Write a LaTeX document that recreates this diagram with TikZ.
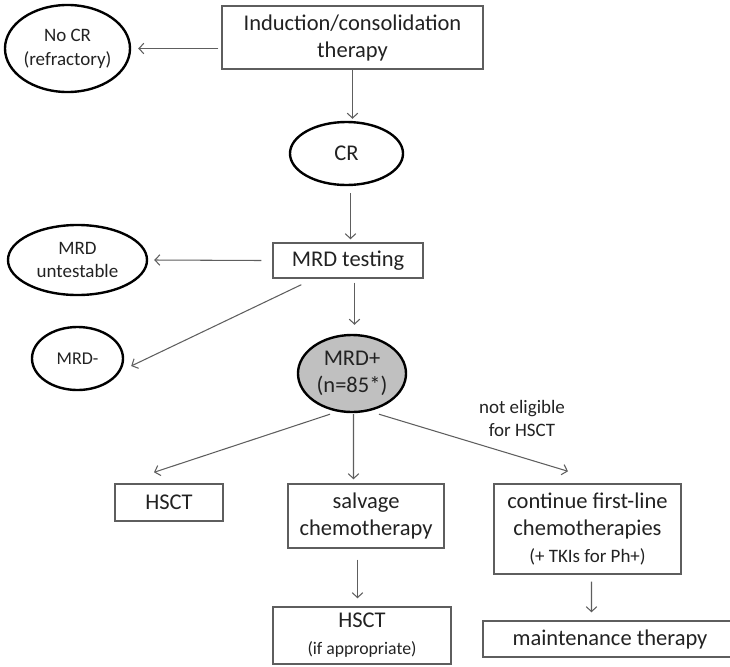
\documentclass[tikz,border=0pt]{standalone}
\usepackage{fontspec}
\setmainfont{Carlito}
\usetikzlibrary{shapes.geometric,arrows.meta,calc}
\definecolor{linegray}{HTML}{5E5E5E}
\definecolor{txtgray}{HTML}{222222}
\definecolor{posfill}{HTML}{C0C0C0}
\newcommand{\bigtxt}{\fontsize{16}{19.2}\selectfont}
\newcommand{\midtxt}{\fontsize{13.5}{17}\selectfont}
\newcommand{\smalltxt}{\fontsize{13.5}{16.4}\selectfont}
\begin{document}
\begin{tikzpicture}[x=0.025cm, y=-0.025cm, >={Straight Barb[length=3.5pt,width=7.5pt]},
    box/.style={rectangle, draw=linegray, line width=1pt, text=txtgray, align=center, inner sep=0pt, font=\bigtxt},
    oval/.style={ellipse, draw=black, line width=1.7pt, text=txtgray, align=center, inner sep=0pt, font=\midtxt},
    arr/.style={->, draw=linegray, line width=0.75pt}]
        \useasboundingbox (0,0) rectangle (730,666);
        % first line of treatment
        \node[box, minimum width=6.525cm, minimum height=1.575cm] (ind) at (352.5,37.5) {Induction/consolidation\\therapy};
        \node[oval, minimum width=3.125cm, minimum height=2.175cm] (nocr) at (67.5,48.5) {No CR\\(refractory)};
        \node[oval, minimum width=2.825cm, minimum height=1.575cm, font=\bigtxt] (cr) at (346.5,153.5) {CR};
        \node[box, minimum width=3.75cm, minimum height=0.875cm] (test) at (348,260.5) {MRD testing};
        \node[oval, minimum width=3.475cm, minimum height=1.75cm] (untest) at (77.5,260) {MRD\\untestable};
        \node[oval, minimum width=2.275cm, minimum height=1.575cm, font=\fontsize{12.8}{15}\selectfont] (mrdneg) at (77.5,358.5) {MRD-};
        \node[oval, fill=posfill, minimum width=2.7cm, minimum height=1.925cm, font=\bigtxt] (mrdpos) at (352,373.5) {MRD+\\(n=85*)};
        % options for MRD+
        \node[box, minimum width=2.7cm, minimum height=0.925cm] (hsct) at (169,502.5) {HSCT};
        \node[box, minimum width=3.9cm, minimum height=1.6cm] (salv) at (366,516) {salvage\\chemotherapy};
        \node[box, minimum width=4.675cm, minimum height=2.25cm] (cont) at (587.5,529) {continue first-line\\chemotherapies\\{\smalltxt(+ TKIs for Ph+)}};
        \node[box, minimum width=4.45cm, minimum height=1.425cm] (hsct2) at (362,635.5) {HSCT\\{\fontsize{12.6}{16}\selectfont(if appropriate)}};
        \node[box, minimum width=6.35cm, minimum height=0.9cm] (maint) at (610,639) {maintenance therapy};
        \node[text=txtgray, align=center, inner sep=0pt, font=\smalltxt] (elig) at (522,418) {not eligible\\for HSCT};
        \draw[arr] ($(ind.west)+(-3,11)$) -- ($(nocr.east)+(7,0)$);
        \draw[arr] (ind.south) -- ($(ind.south |- cr.north)+(0,-2)$);
        \draw[arr] ($(cr.south)+(4,7)$) -- ($(test.north)+(2.5,-3)$);
        \draw[arr] ($(test.west)+(-11,0)$) -- ($(untest.east)+(6,0)$);
        \draw[arr] ($(test.south west)+(29,6)$) -- ($(mrdneg.east)+(7,7.5)$);
        \draw[arr] ($(test.south)+(6.5,4)$) -- ($(mrdpos.north)+(2.5,-9)$);
        \draw[arr] ($(mrdpos.south)+(-22,1)$) -- ($(hsct.north)+(-15,-11)$);
        \draw[arr] ($(mrdpos.south)+(1.5,1)$) -- ($(salv.north)+(-12.5,-4)$);
        \draw[arr] ($(mrdpos.south)+(27,1)$) -- ($(cont.north)+(-19.5,-12)$);
        \draw[arr] ($(salv.south)+(-8.5,11)$) -- ($(hsct2.north)+(-4.5,-8)$);
        \draw[arr] ($(cont.south)+(4,7)$) -- ($(maint.north)+(-18.5,-8)$);
\end{tikzpicture}
\end{document}
